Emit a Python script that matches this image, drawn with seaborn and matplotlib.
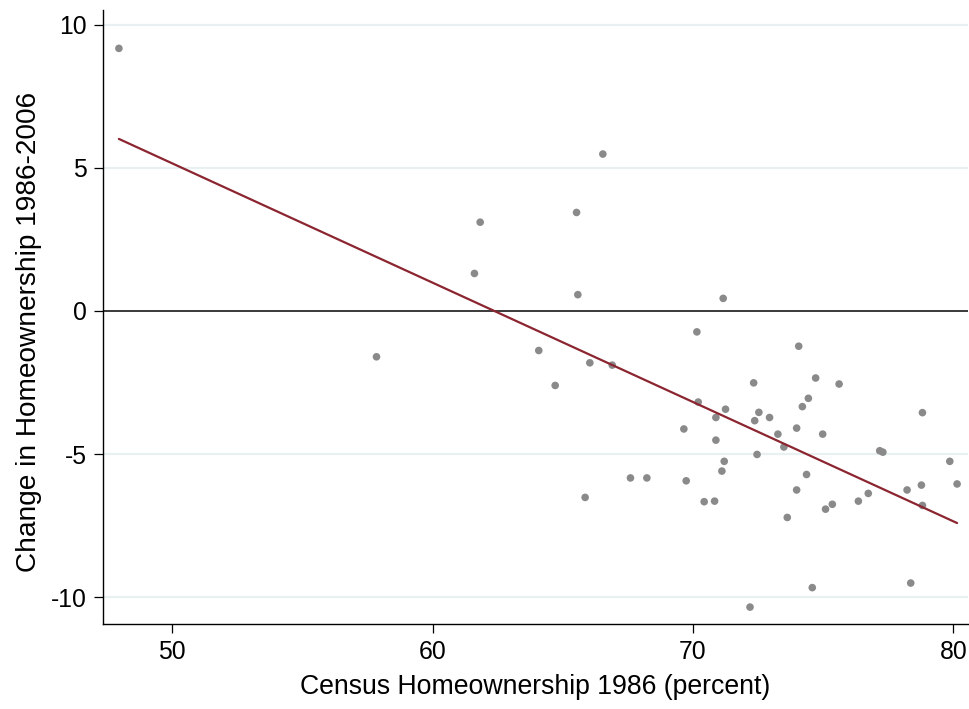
import matplotlib
matplotlib.use("Agg")
import matplotlib.pyplot as plt
import seaborn as sns
import pandas as pd

# Census homeownership 1986 (percent)
homeown_1986 = [
    47.96, 57.85, 61.61, 61.83, 64.08, 64.71, 65.53, 65.58, 65.86, 66.04,
    66.54, 66.90, 67.60, 68.23, 69.65, 69.74, 70.15, 70.20, 70.43, 70.83,
    70.88, 70.88, 71.11, 71.16, 71.20, 71.25, 72.19, 72.33, 72.37, 72.46,
    72.53, 72.94, 73.26, 73.49, 73.62, 73.98, 73.98, 74.06, 74.20, 74.36,
    74.43, 74.58, 74.71, 74.98, 75.09, 75.35, 75.61, 76.35, 76.73, 77.17,
    77.29, 78.22, 78.36, 78.77, 78.81, 78.81, 79.86, 80.14,
]
# Change in homeownership 1986-2006
change_86_06 = [
    9.17, -1.60, 1.31, 3.10, -1.38, -2.60, 3.44, 0.57, -6.51, -1.81,
    5.48, -1.89, -5.83, -5.83, -4.12, -5.93, -0.73, -3.18, -6.66, -6.64,
    -3.72, -4.51, -5.59, 0.44, -5.25, -3.43, -10.34, -2.51, -3.83, -5.01,
    -3.54, -3.72, -4.30, -4.75, -7.21, -4.09, -6.25, -1.23, -3.34, -5.71,
    -3.05, -9.66, -2.34, -4.30, -6.92, -6.75, -2.55, -6.64, -6.37, -4.88,
    -4.93, -6.25, -9.50, -6.08, -3.55, -6.79, -5.25, -6.04,
]
x_ticks = [50, 60, 70, 80]
y_ticks = [-10, -5, 0, 5, 10]
x_label = "Census Homeownership 1986 (percent)"
y_label = "Change in Homeownership 1986-2006"

df = pd.DataFrame({"x": homeown_1986, "y": change_86_06})

sns.set_theme(style="white")
plt.rcParams["font.family"] = ["Liberation Sans", "DejaVu Sans"]

fig = plt.figure(figsize=(9.69, 7.09), dpi=100)
ax = fig.add_axes([0.1063, 0.1199, 0.8927, 0.866])

# horizontal grid lines (light)
for yv in y_ticks:
    if yv != 0:
        ax.axhline(yv, color="#e8f0f2", lw=1.6, zorder=0)
ax.axhline(0, color="#3a3a3a", lw=1.4, zorder=1)

sns.regplot(
    data=df, x="x", y="y", ax=ax, ci=None,
    scatter_kws=dict(s=30, color="#8a8a8a", edgecolor="none", alpha=1, zorder=3),
    line_kws=dict(color="#8b2530", lw=1.6, zorder=4),
)

ax.set_xlim(47.35, 80.56)
ax.set_ylim(-10.93, 10.51)
ax.set_xticks(x_ticks)
ax.set_yticks(y_ticks)
ax.set_xticklabels([str(t) for t in x_ticks])
ax.set_yticklabels([str(t) for t in y_ticks])
ax.set_xlabel(x_label, fontsize=19.2, labelpad=7, color="black")
ax.set_ylabel(y_label, fontsize=20.2, labelpad=6, color="black")
ax.yaxis.set_label_coords(-0.07, 0.475)
ax.tick_params(axis="both", which="major", labelsize=17.8, direction="out",
               length=6.5, width=0.9, color="black", labelcolor="black",
               pad=5, bottom=True, left=True)

for s in ["top", "right"]:
    ax.spines[s].set_visible(False)
for s in ["left", "bottom"]:
    ax.spines[s].set_color("black")
    ax.spines[s].set_linewidth(1.0)

fig.savefig("out.png", dpi=100, facecolor="white")
